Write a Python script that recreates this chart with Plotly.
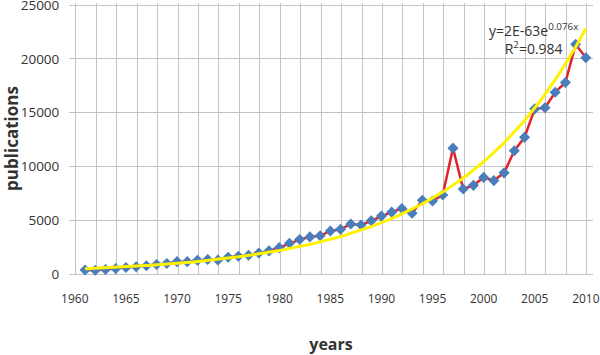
import numpy as np
import plotly.graph_objects as go

years = list(range(1961, 2011))
publications = [
    380, 350, 420, 500, 600, 680, 760, 880, 980, 1150,
    1150, 1280, 1350, 1300, 1550, 1650, 1750, 1950, 2150, 2450,
    2850, 3200, 3450, 3550, 4000, 4150, 4650, 4550, 4950, 5380,
    5750, 6080, 5650, 6850, 6780, 7350, 11700, 7900, 8240, 8980,
    8680, 9400, 11450, 12700, 15350, 15450, 16900, 17800, 21350, 20100,
]
x_ticks = [1960, 1965, 1970, 1975, 1980, 1985, 1990, 1995, 2000, 2005, 2010]
y_ticks = [0, 5000, 10000, 15000, 20000, 25000]
equation_text = "y=2E-63e<sup>0.076x</sup><br>R<sup>2</sup>=0.984"

# exponential trendline (least squares in log space, as Excel does)
xa = np.array(years, dtype=float)
ya = np.array(publications, dtype=float)
b, ln_a = np.polyfit(xa - 1960, np.log(ya), 1)
xt = np.linspace(xa.min(), xa.max(), 200)
yt = np.exp(ln_a + b * (xt - 1960))

FONT = "Open Sans"
GRID = "#c4c4c4"

fig = go.Figure()
fig.add_trace(go.Scatter(
    x=years, y=publications, mode="lines+markers",
    line=dict(color="#e3232a", width=2.5),
    marker=dict(symbol="diamond", size=8.5, color="#4a7ebb"),
    showlegend=False, cliponaxis=False,
))
fig.add_trace(go.Scatter(
    x=xt, y=yt, mode="lines",
    line=dict(color="#fff200", width=3),
    showlegend=False, cliponaxis=False,
))

fig.update_layout(
    width=600, height=355,
    margin=dict(l=69, r=7, t=3, b=81),
    paper_bgcolor="white", plot_bgcolor="white",
    font=dict(family=FONT, color="#333333"),
    xaxis=dict(
        range=[1959.43, 2010.7],
        automargin=False,
        tickvals=x_ticks, ticktext=[str(v) for v in x_ticks],
        showgrid=False, zeroline=False, showline=False,
        ticks="outside", ticklen=14, tickcolor="rgba(0,0,0,0)",
        tickfont=dict(size=12, color="#333333"),
        ticklabeloverflow="allow",
        minor=dict(tick0=1960.1, dtick=2, showgrid=True, gridcolor=GRID, gridwidth=1),
        title=dict(text="<b>years</b>", font=dict(size=16, color="#333333"), standoff=32),
    ),
    yaxis=dict(
        range=[0, 25190],
        automargin=False,
        tickvals=y_ticks, ticktext=[str(v) for v in y_ticks],
        showgrid=True, gridcolor=GRID, gridwidth=1,
        zeroline=True, zerolinecolor=GRID, zerolinewidth=1,
        showline=False,
        ticks="outside", ticklen=6, tickcolor="rgba(0,0,0,0)",
        tickfont=dict(size=13.5, color="#333333"),
        ticklabeloverflow="allow",
        title=dict(text="<b>publications</b>", font=dict(size=17, color="#333333"), standoff=2),
    ),
    annotations=[dict(
        text=equation_text, xref="paper", yref="paper",
        x=0.887, y=0.866, xanchor="center", yanchor="middle",
        align="center", showarrow=False,
        font=dict(family=FONT, size=14, color="#333333"),
    )],
)

fig.write_html(
    "out.html",
    config={"displayModeBar": False},
    post_script="document.body.style.margin='0';",
)
